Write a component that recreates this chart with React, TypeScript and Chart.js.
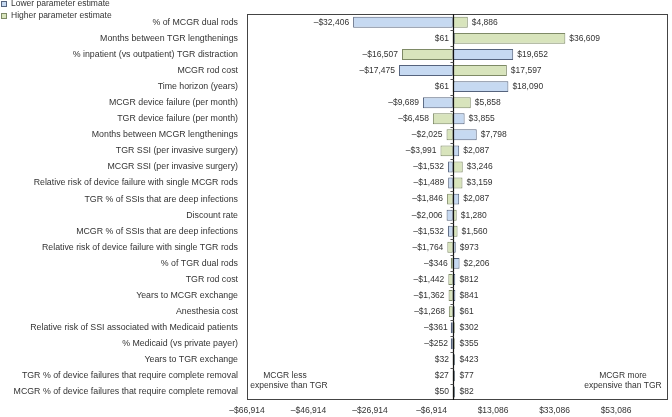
import React, { useEffect, useRef } from "react";
import { Chart, registerables } from "chart.js";
Chart.register(...registerables);

const parameters = [
  "% of MCGR dual rods",
  "Months between TGR lengthenings",
  "% inpatient (vs outpatient) TGR distraction",
  "MCGR rod cost",
  "Time horizon (years)",
  "MCGR device failure (per month)",
  "TGR device failure (per month)",
  "Months between MCGR lengthenings",
  "TGR SSI (per invasive surgery)",
  "MCGR SSI (per invasive surgery)",
  "Relative risk of device failure with single MCGR rods",
  "TGR % of SSIs that are deep infections",
  "Discount rate",
  "MCGR % of SSIs that are deep infections",
  "Relative risk of device failure with single TGR rods",
  "% of TGR dual rods",
  "TGR rod cost",
  "Years to MCGR exchange",
  "Anesthesia cost",
  "Relative risk of SSI associated with Medicaid patients",
  "% Medicaid (vs private payer)",
  "Years to TGR exchange",
  "TGR % of device failures that require complete removal",
  "MCGR % of device failures that require complete removal",
];

const lowerEstimate = [
  -32406, 61, 19652, -17475, 18090, -9689, 3855, 7798, 2087, -1532, -1489, 2087,
  -2006, -1532, 973, 2206, 812, 841, 61, -361, -252, 32, 27, 50,
];

const higherEstimate = [
  4886, 36609, -16507, 17597, 61, 5858, -6458, -2025, -3991, 3246, 3159, -1846,
  1280, 1560, -1764, -346, -1442, -1362, -1268, 302, 355, 423, 77, 82,
];

const xTickValues = [-66914, -46914, -26914, -6914, 13086, 33086, 53086];
const xMin = -66914;
const xMax = 70000;

const legendLabels = ["Lower parameter estimate", "Higher parameter estimate"];
const leftNote = ["MCGR less", "expensive than TGR"];
const rightNote = ["MCGR more", "expensive than TGR"];

const BLUE_FILL = "#c6d9f1";
const BLUE_BORDER = "#55637d";
const GREEN_FILL = "#d8e4bc";
const GREEN_BORDER = "#7e8a66";
const TEXT = "#333333";
const FONT_FAMILY = "'Liberation Sans', Arial, Helvetica, sans-serif";
const FONT_SIZE = 8.5;

function fmt(v: number): string {
  const s = "$" + Math.abs(v).toLocaleString("en-US");
  return v < 0 ? "\u2013" + s : s;
}

const overlayPlugin = {
  id: "overlay",
  afterDatasetsDraw(chart: any) {
    const { ctx, chartArea } = chart;
    const xs = chart.scales.x;
    const ys = chart.scales.y;
    const { left, right, top, bottom } = chartArea;
    ctx.save();

    // plot box
    ctx.strokeStyle = "#444";
    ctx.lineWidth = 1;
    ctx.strokeRect(Math.round(left) + 0.5, Math.round(top) + 0.5, Math.round(right - left) - 1, Math.round(bottom - top) - 1);

    // center line
    const x0 = Math.round(xs.getPixelForValue(0)) + 0.5;
    ctx.strokeStyle = "#111";
    ctx.lineWidth = 1.2;
    ctx.beginPath();
    ctx.moveTo(x0, top);
    ctx.lineTo(x0, bottom);
    ctx.stroke();

    // boundary ticks
    const n = parameters.length;
    const step = (bottom - top) / n;
    ctx.strokeStyle = "#555";
    ctx.lineWidth = 1;
    for (let k = 1; k < n; k++) {
      const y = Math.round(top + k * step) + 0.5;
      ctx.beginPath();
      ctx.moveTo(x0 - 3, y);
      ctx.lineTo(x0, y);
      ctx.stroke();
    }

    // value labels
    ctx.font = `${FONT_SIZE}px ${FONT_FAMILY}`;
    ctx.fillStyle = TEXT;
    ctx.textBaseline = "middle";
    for (let i = 0; i < n; i++) {
      const a = lowerEstimate[i];
      const b = higherEstimate[i];
      const lv = Math.min(a, b);
      const rv = Math.max(a, b);
      const y = ys.getPixelForValue(i);
      const lx = Math.min(xs.getPixelForValue(lv), x0);
      const rx = Math.max(xs.getPixelForValue(rv), x0 + 2);
      ctx.textAlign = "right";
      ctx.fillText(fmt(lv), lx - 4, y);
      ctx.textAlign = "left";
      ctx.fillText(fmt(rv), rx + 4, y);
    }

    // notes
    ctx.textAlign = "center";
    ctx.fillText(leftNote[0], 285, 376);
    ctx.fillText(leftNote[1], 289, 386);
    ctx.fillText(rightNote[0], 623, 376);
    ctx.fillText(rightNote[1], 623, 386);

    // legend
    const items = [
      { label: legendLabels[0], fill: BLUE_FILL, border: BLUE_BORDER, y: 4 },
      { label: legendLabels[1], fill: GREEN_FILL, border: GREEN_BORDER, y: 16 },
    ];
    ctx.textAlign = "left";
    for (const it of items) {
      ctx.fillStyle = it.fill;
      ctx.fillRect(1, it.y - 3, 6, 6);
      ctx.strokeStyle = it.border;
      ctx.strokeRect(1.5, it.y - 2.5, 5, 5);
      ctx.fillStyle = TEXT;
      ctx.fillText(it.label, 11, it.y);
    }
    ctx.restore();
  },
};

export default function App() {
  const ref = useRef<HTMLCanvasElement | null>(null);
  useEffect(() => {
    if (!ref.current) return;
    const chart = new Chart(ref.current, {
      type: "bar",
      data: {
        labels: parameters,
        datasets: [
          {
            label: legendLabels[0],
            data: lowerEstimate,
            backgroundColor: BLUE_FILL,
            borderColor: BLUE_BORDER,
            borderWidth: 1,
            borderSkipped: false,
            grouped: false,
            minBarLength: 2,
            barPercentage: 0.68,
            categoryPercentage: 1,
          } as any,
          {
            label: legendLabels[1],
            data: higherEstimate,
            backgroundColor: GREEN_FILL,
            borderColor: GREEN_BORDER,
            borderWidth: 1,
            borderSkipped: false,
            grouped: false,
            minBarLength: 2,
            barPercentage: 0.68,
            categoryPercentage: 1,
          } as any,
        ],
      },
      options: {
        indexAxis: "y",
        responsive: false,
        animation: false,
        layout: { padding: { top: 10, right: 4, left: 0, bottom: 0 } },
        plugins: { legend: { display: false }, tooltip: { enabled: false } },
        scales: {
          x: {
            type: "linear",
            min: xMin,
            max: xMax,
            grid: { display: false, drawTicks: false },
            border: { display: false },
            afterBuildTicks: (scale: any) => {
              scale.ticks = xTickValues.map((v) => ({ value: v }));
            },
            afterFit: (scale: any) => {
              scale.height = 17;
            },
            ticks: {
              autoSkip: false,
              maxRotation: 0,
              padding: 6,
              color: TEXT,
              font: { family: FONT_FAMILY, size: FONT_SIZE },
              callback: (v: any) => fmt(Number(v)),
            },
          },
          y: {
            type: "category",
            grid: { display: false, drawTicks: false },
            border: { display: false },
            afterFit: (scale: any) => {
              scale.width = 247;
            },
            ticks: {
              autoSkip: false,
              padding: 9,
              color: TEXT,
              font: { family: FONT_FAMILY, size: 8.8 },
            },
          },
        },
      },
      plugins: [overlayPlugin],
    });
    return () => chart.destroy();
  }, []);
  return (
    <div style={{ position: "fixed", left: 0, top: 0, width: 672, height: 417, background: "#fff" }}>
      <canvas ref={ref} width={672} height={417} />
    </div>
  );
}
